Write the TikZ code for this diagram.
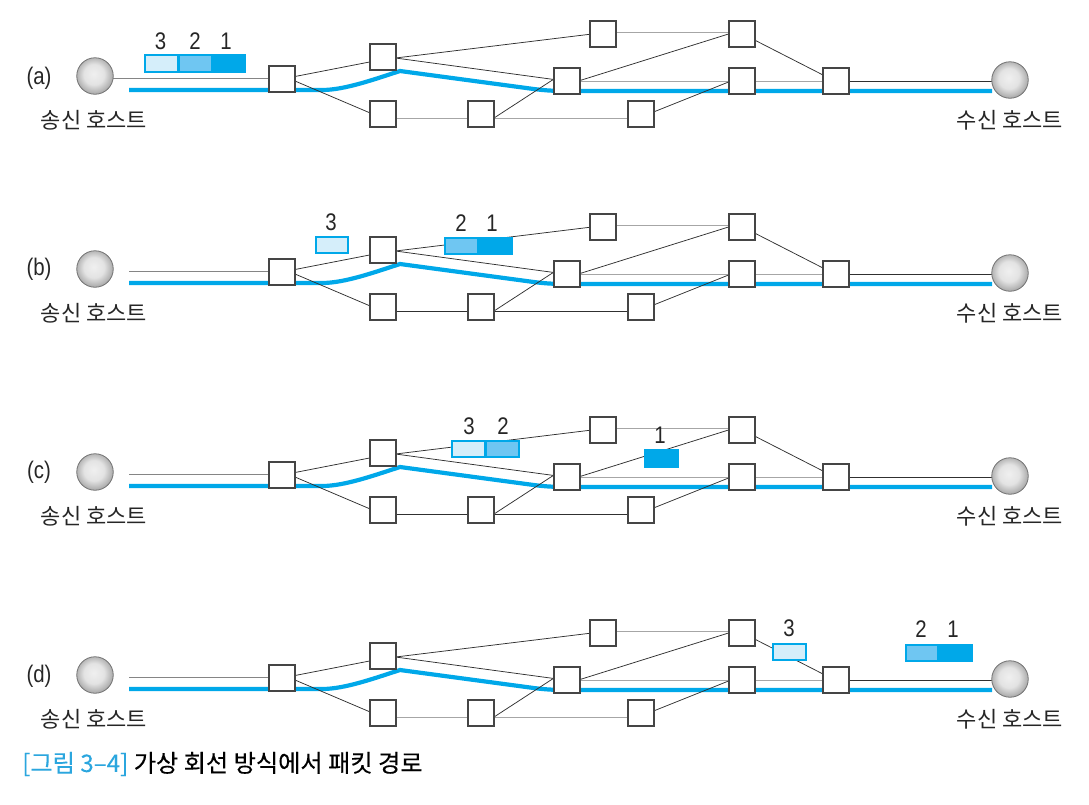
\documentclass[tikz,border=0pt]{standalone}
\usepackage{fontspec}
\setmainfont{Liberation Sans}
\newfontfamily\krfont{Noto Sans CJK KR}
\newfontfamily\krboldish[FakeBold=0.25]{Noto Sans CJK KR}
\newfontfamily\krblue[FakeBold=0.12]{Noto Sans CJK KR}
\newfontfamily\numfont[FakeStretch=0.85]{Liberation Sans}
\usetikzlibrary{calc}
\definecolor{pblue}{HTML}{00A8E9}
\definecolor{pmid}{HTML}{6FC6F2}
\definecolor{plight}{HTML}{D5EEFA}
\definecolor{capblue}{HTML}{2BA6DE}
\definecolor{swline}{HTML}{454545}
\definecolor{linkgrey}{HTML}{A6A6A6}
\definecolor{linkdark}{HTML}{303030}
\pgfdeclarelayer{bg}
\pgfsetlayers{bg,main}
\pgfdeclareradialshading{hostball}{\pgfpoint{-2bp}{3bp}}{color(0bp)=(black!6);color(14bp)=(black!11);color(24bp)=(black!30);color(30bp)=(black!45);color(50bp)=(black!55)}
\tikzset{
  x=1pt,y=-1pt,
  sw/.style={draw=swline,fill=white,line width=2pt,minimum size=26pt,inner sep=0pt,outer sep=0pt},
  host/.style={circle,draw=black!55,line width=0.8pt,shading=hostball,minimum size=36.5pt,inner sep=0pt,outer sep=0pt},
  thin link/.style={draw=linkdark,line width=0.75pt},
  soft link/.style={line width=1pt},
  route/.style={draw=pblue,line width=4.2pt},
  hosttext/.style={font=\krfont\fontsize{22}{22}\selectfont,inner sep=0pt,text=black!85},
  rowtext/.style={font=\numfont\fontsize{24}{24}\selectfont,inner sep=0pt,text=black!85},
  numtext/.style={font=\numfont\fontsize{24}{24}\selectfont,inner sep=0pt,text=black!85},
  pktlight/.style={draw=pblue,fill=plight,line width=1.7pt,minimum width=32.5pt,minimum height=16.5pt,inner sep=0pt,outer sep=0pt},
  pktmid/.style={draw=pblue,fill=pmid,line width=1.7pt,minimum width=32.5pt,minimum height=16.5pt,inner sep=0pt,outer sep=0pt},
  pktfull/.style={draw=pblue,fill=pblue,line width=1.7pt,minimum width=32.5pt,minimum height=16.5pt,inner sep=0pt,outer sep=0pt},
}
% #1 prefix, #2 y offset, #3 colour of the lower links, #4 x of first link start
\newcommand{\netrow}[4]{%
  \node[host] (#1src) at (95,76+#2) {};
  \node[host] (#1dst) at (1010,80+#2) {};
  \coordinate (#1start) at (#4,78+#2);
  \coordinate (#1rs) at (129,90+#2);
  \coordinate (#1re) at (992,91+#2);
  \node[sw] (#1a) at (282,79+#2) {};
  \node[sw] (#1b) at (382.5,56.5+#2) {};
  \node[sw] (#1c) at (382.5,113.5+#2) {};
  \node[sw] (#1d) at (481,113.5+#2) {};
  \node[sw] (#1e) at (567,81+#2) {};
  \node[sw] (#1f) at (602.5,33.5+#2) {};
  \node[sw] (#1g) at (741.5,33.5+#2) {};
  \node[sw] (#1h) at (741.5,81+#2) {};
  \node[sw] (#1i) at (640.5,113.5+#2) {};
  \node[sw] (#1j) at (836,81+#2) {};
  \begin{pgfonlayer}{bg}
    \draw[route] (#1rs) -- (322,90+#2)
       .. controls (345,90+#2) and (375,79+#2) .. (400,71+#2)
       -- (530,88.5+#2) .. controls (542,90.2+#2) and (552,91+#2) .. (567,91+#2) -- (#1re);
    \draw[soft link,draw=linkgrey!80!black] (#1start) -- ($(#1a.west)+(0,-1)$);
    \draw[thin link] ($(#1a.east)+(0,-2.5)$) -- ($(#1b.west)+(0,5.5)$);
    \draw[thin link] ($(#1a.east)+(0,2)$) -- ($(#1c.west)+(0,-0.8)$);
    \draw[thin link] ($(#1b.east)+(0,1.5)$) -- ($(#1f.west)+(0,0.8)$);
    \draw[thin link] ($(#1b.east)+(0,1.5)$) -- ($(#1e.west)+(0,-1.5)$);
    \draw[soft link,draw=#3] ($(#1c.east)+(0,4.5)$) -- ($(#1d.west)+(0,4.5)$);
    \draw[thin link] ($(#1d.east)+(0,4.5)$) -- ($(#1e.west)+(0,-2)$);
    \draw[soft link,draw=#3] ($(#1d.east)+(0,4.5)$) -- ($(#1i.west)+(0,4.5)$);
    \draw[thin link] ($(#1e.east)+(0,-0.5)$) -- ($(#1g.west)+(0,0.5)$);
    \draw[soft link,draw=linkgrey] ($(#1e.east)+(0,0)$) -- ($(#1h.west)+(0,0)$);
    \draw[soft link,draw=linkgrey] ($(#1f.east)+(0,-1)$) -- ($(#1g.west)+(0,-1)$);
    \draw[thin link] ($(#1i.east)+(0,-1.5)$) -- ($(#1h.west)+(0,1)$);
    \draw[thin link] ($(#1g.east)+(0,6.5)$) -- ($(#1j.west)+(0,-6)$);
    \draw[soft link,draw=linkgrey] ($(#1h.east)+(0,0)$) -- ($(#1j.west)+(0,0)$);
    \draw[soft link,draw=linkdark] ($(#1j.east)+(0,0)$) -- ($(#1dst.west)+(0,1)$);
  \end{pgfonlayer}
  \node[hosttext] (#1srclabel) at (94,120+#2) {송신 호스트};
  \node[hosttext] (#1dstlabel) at (1010,120+#2) {수신 호스트};
}
\begin{document}
\begin{tikzpicture}
\useasboundingbox (0,0) rectangle (1089,804);
\netrow{ra}{0}{linkgrey}{113}
\netrow{rb}{193}{linkdark}{129}
\netrow{rc}{396}{linkdark}{129}
\netrow{rd}{599}{linkgrey}{129}
\node[rowtext] (lbla) at (39,78) {(a)};
\node[rowtext] (lblb) at (39,269) {(b)};
\node[rowtext] (lblc) at (39,472) {(c)};
\node[rowtext] (lbld) at (39,676) {(d)};
% (a) packets
\node[pktlight] (pa3) at (161.5,63.5) {};
\node[pktmid] (pa2) at (195.5,63.5) {};
\node[pktfull] (pa1) at (229,63.5) {};
\node[numtext] (na3) at (160.5,41) {3};
\node[numtext] (na2) at (195,41) {2};
\node[numtext] (na1) at (226,41) {1};
% (b) packets
\node[pktlight] (pb3) at (332,245) {};
\node[pktmid] (pb2) at (461.5,246) {};
\node[pktfull] (pb1) at (495.5,246) {};
\node[numtext] (nb3) at (331,222) {3};
\node[numtext] (nb2) at (461,223) {2};
\node[numtext] (nb1) at (492,223) {1};
% (c) packets
\node[pktlight] (pc3) at (468.5,449) {};
\node[pktmid] (pc2) at (502.5,449) {};
\node[pktfull] (pc1) at (661.5,458.5) {};
\node[numtext] (nc3) at (469,426) {3};
\node[numtext] (nc2) at (503,426) {2};
\node[numtext] (nc1) at (660,435) {1};
% (d) packets
\node[pktlight] (pd3) at (789.5,652) {};
\node[pktmid] (pd2) at (922,653) {};
\node[pktfull] (pd1) at (955.5,653) {};
\node[numtext] (nd3) at (789,628) {3};
\node[numtext] (nd2) at (921,629) {2};
\node[numtext] (nd1) at (953,629) {1};
% caption
\node[anchor=west,inner sep=0pt,font=\krboldish\fontsize{24.2}{25}\selectfont] (caption) at (22,764) {{\krblue\color{capblue}[그림 3–4]} 가상 회선 방식에서 패킷 경로};
\end{tikzpicture}
\end{document}
